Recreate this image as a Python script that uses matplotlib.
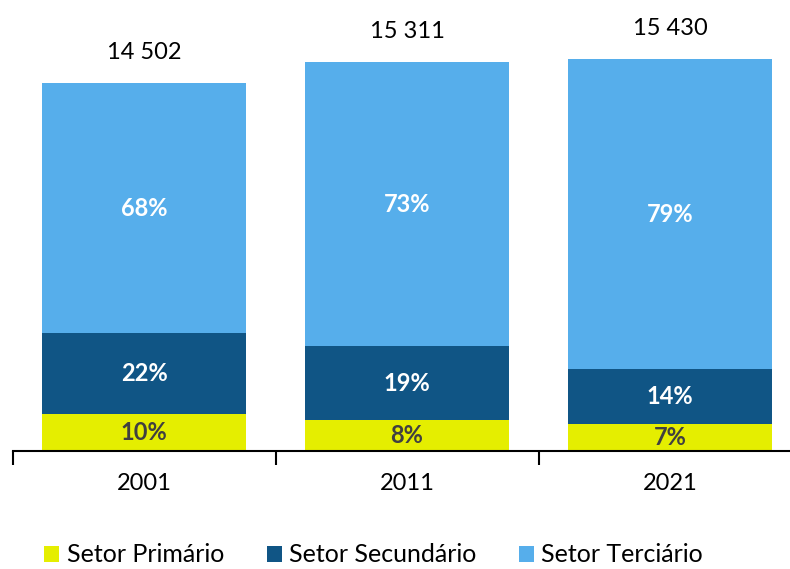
import matplotlib
matplotlib.use("Agg")
import matplotlib.pyplot as plt
import numpy as np

years = ["2001", "2011", "2021"]
totals = [14502, 15311, 15430]
primario = [10, 8, 7]
secundario = [22, 19, 14]
terciario = [68, 73, 79]
series_names = ["Setor Primário", "Setor Secundário", "Setor Terciário"]
colors = ["#E5EE00", "#105585", "#56AEEB"]
label_colors = ["#404040", "white", "white"]

plt.rcParams['font.family'] = ['Lato', 'DejaVu Sans']

fig = plt.figure(figsize=(7.9, 5.69), dpi=100)
W, H = 790, 569
x0 = 12.5; x1 = 801.5
base = 451
ax = fig.add_axes([x0 / W, 1 - base / H, (x1 - x0) / W, base / H])
px_per_unit = 368 / 14502
ax.set_ylim(0, base / px_per_unit)
ax.set_xlim(-0.5, 2.5)

x = np.arange(len(years))
bottoms = np.zeros(len(years))
for vals, name, col, lc in zip([primario, secundario, terciario], series_names, colors, label_colors):
    heights = np.array(totals) * np.array(vals) / 100.0
    ax.bar(x, heights, bottom=bottoms, width=0.775, color=col, label=name)
    for xi, b, h, v in zip(x, bottoms, heights, vals):
        ax.text(xi, b + h / 2, f"{v}%", ha="center", va="center", color=lc,
                fontsize=17, fontweight="bold")
    bottoms = bottoms + heights

for xi, t in zip(x, totals):
    s = f"{t:,}".replace(",", " ")
    ax.annotate(s, (xi, t), xytext=(0, 31), textcoords="offset pixels",
                ha="center", va="center", fontsize=17)

for sp in ["top", "right", "left"]:
    ax.spines[sp].set_visible(False)
ax.spines["bottom"].set_linewidth(1.5)
ax.set_yticks([])
ax.set_xticks(x)
ax.set_xticklabels(years, fontsize=17)
ax.tick_params(axis="x", which="major", length=0, pad=16)
ax.set_xticks([-0.5, 0.5, 1.5, 2.5], minor=True)
ax.tick_params(axis="x", which="minor", length=10, width=1.5, direction="out")

fig.legend(loc="center", bbox_to_anchor=(0.473, 1 - 555 / H), ncol=3, frameon=False,
           fontsize=18, handlelength=0.6, handleheight=0.6, handletextpad=0.3,
           columnspacing=1.7)

fig.savefig("out.png", dpi=100)
